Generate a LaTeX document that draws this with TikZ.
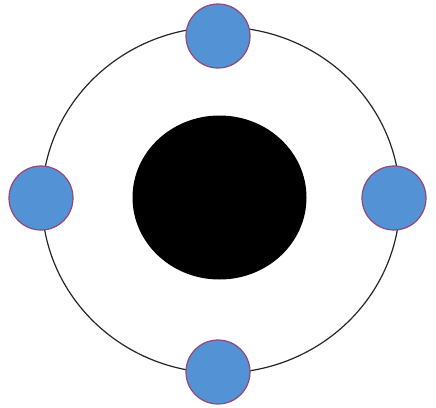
\documentclass[tikz,border=0pt]{standalone}
\usetikzlibrary{shapes.geometric}
\definecolor{satblue}{RGB}{84,146,214}
\definecolor{satrim}{RGB}{150,70,120}
\begin{document}
\begin{tikzpicture}[x=1pt,y=-1pt,
  ring/.style={draw=black!85,line width=1.2pt},
  core/.style={ellipse,fill=black,draw=none,inner sep=0pt},
  sat/.style={circle,fill=satblue,draw=satrim,line width=1.2pt,minimum size=64pt,inner sep=0pt}]
\useasboundingbox (0,0) rectangle (436,407);
\fill[white] (0,0) rectangle (436,407);
\draw[ring] (221,200) ellipse [x radius=179, y radius=173];
\node[core,minimum width=174pt,minimum height=164pt] (nucleus) at (219.5,197.5) {};
\node[sat] (top) at (218,36) {};
\node[sat] (left) at (41,198) {};
\node[sat] (right) at (394,198) {};
\node[sat] (bottom) at (218,372) {};
\end{tikzpicture}
\end{document}
